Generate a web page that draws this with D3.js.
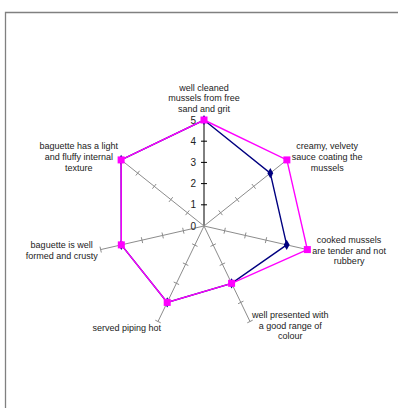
<!DOCTYPE html>
<html>
<head>
<meta charset="utf-8">
<script src="https://cdn.jsdelivr.net/npm/d3@7"></script>
<style>
    html, body { margin: 0; padding: 0; background: #fff; }
    svg { display: block; font-family: "Liberation Sans", Arial, sans-serif; }
</style>
</head>
<body>
<div id="chart"></div>
<script>
// Data
const categories = [
    ["well cleaned", "mussels from free", "sand and grit"],
    ["creamy, velvety", "sauce coating the", "mussels"],
    ["cooked mussels", "are tender and not", "rubbery"],
    ["well presented with", "a good range of", "colour"],
    ["served piping hot"],
    ["baguette is well", "formed and crusty"],
    ["baguette has a light", "and fluffy internal", "texture"]
];
const seriesA = [5, 4, 4, 3, 4, 4, 5];   // navy
const seriesB = [5, 5, 5, 3, 4, 4, 5];   // magenta
const ticks = [0, 1, 2, 3, 4, 5];

const width = 399, height = 408;
const cx = 204, cy = 226;

const svg = d3.select("#chart").append("svg")
    .attr("width", width)
    .attr("height", height);

// Frame (only top and left edges are visible)
svg.append("path")
    .attr("d", "M5.5,408V12.5H398")
    .attr("fill", "none")
    .attr("stroke", "#808080")
    .attr("stroke-width", 1.3);

const r = d3.scaleLinear().domain([0, 5]).range([0, 106]);
const angle = d3.scaleLinear().domain([0, categories.length]).range([0, 2 * Math.PI]);

function pt(i, v) {
    const a = angle(i);
    return [cx + r(v) * Math.sin(a), cy - r(v) * Math.cos(a)];
}

const g = svg.append("g");

// Axes with tick marks
categories.forEach((c, i) => {
    const a = angle(i);
    const end = pt(i, d3.max(ticks));
    const col = i === 0 ? "#000" : "#8c8c8c";
    g.append("line")
        .attr("x1", cx).attr("y1", cy)
        .attr("x2", end[0]).attr("y2", end[1])
        .attr("stroke", col)
        .attr("stroke-width", 1);
    const px = Math.cos(a) * 3, py = Math.sin(a) * 3;
    ticks.slice(1).forEach(t => {
        const p = pt(i, t);
        g.append("line")
            .attr("x1", p[0] - px).attr("y1", p[1] - py)
            .attr("x2", p[0] + px).attr("y2", p[1] + py)
            .attr("stroke", col)
            .attr("stroke-width", 1);
    });
});

// Value labels on first axis
g.selectAll(".tick-label")
    .data(ticks)
    .enter()
    .append("text")
    .attr("class", "tick-label")
    .attr("x", cx - 8)
    .attr("y", d => cy - r(d))
    .attr("dy", "0.35em")
    .attr("text-anchor", "end")
    .attr("font-size", 10)
    .attr("fill", "#222")
    .text(d => d);

// Series lines
const line = d3.line();
function drawSeries(vals, color) {
    const pts = vals.map((v, i) => pt(i, v));
    g.append("path")
        .attr("d", line(pts) + "Z")
        .attr("fill", "none")
        .attr("stroke", color)
        .attr("stroke-width", 1.4);
    return pts;
}

const ptsA = drawSeries(seriesA, "#000080");
g.selectAll(".mk-a")
    .data(ptsA)
    .enter()
    .append("path")
    .attr("class", "mk-a")
    .attr("transform", d => `translate(${d[0]},${d[1]})`)
    .attr("d", d3.symbol(d3.symbolDiamond, 30)())
    .attr("fill", "#000080");

const ptsB = drawSeries(seriesB, "#ff00ff");
g.selectAll(".mk-b")
    .data(ptsB)
    .enter()
    .append("rect")
    .attr("class", "mk-b")
    .attr("x", d => d[0] - 3.5)
    .attr("y", d => d[1] - 3.5)
    .attr("width", 7)
    .attr("height", 7)
    .attr("fill", "#ff00ff");

// Category labels: centred text blocks placed beside the axis ends
const lh = 10.6;
categories.forEach((lines, i) => {
    const a = angle(i);
    const end = pt(i, d3.max(ticks));
    const s = Math.sin(a), c = Math.cos(a);
    const t = svg.append("text")
        .attr("text-anchor", "middle")
        .attr("font-size", 9)
        .attr("fill", "#222");
    const spans = lines.map(ln => t.append("tspan").text(ln));
    const w = d3.max(spans, sp => sp.node().getComputedTextLength());

    let bx, midY;
    if (c > 0.9) {
        bx = end[0];
        midY = end[1] - 11 - (lines.length - 1) * lh / 2;
    } else if (c < -0.8) {
        bx = s > 0 ? end[0] + 2 + w / 2 : end[0] + 3 - w / 2;
        midY = end[1] + (s > 0 ? 4 : 6);
    } else {
        bx = s > 0 ? end[0] + 5 + w / 2 : end[0] - 3 - w / 2;
        midY = end[1] + (c > 0 ? -3 : 1);
    }
    const y0 = midY + 3 - (lines.length - 1) * lh / 2;
    spans.forEach((sp, k) => sp.attr("x", bx).attr("y", y0 + k * lh));
});
</script>
</body>
</html>
